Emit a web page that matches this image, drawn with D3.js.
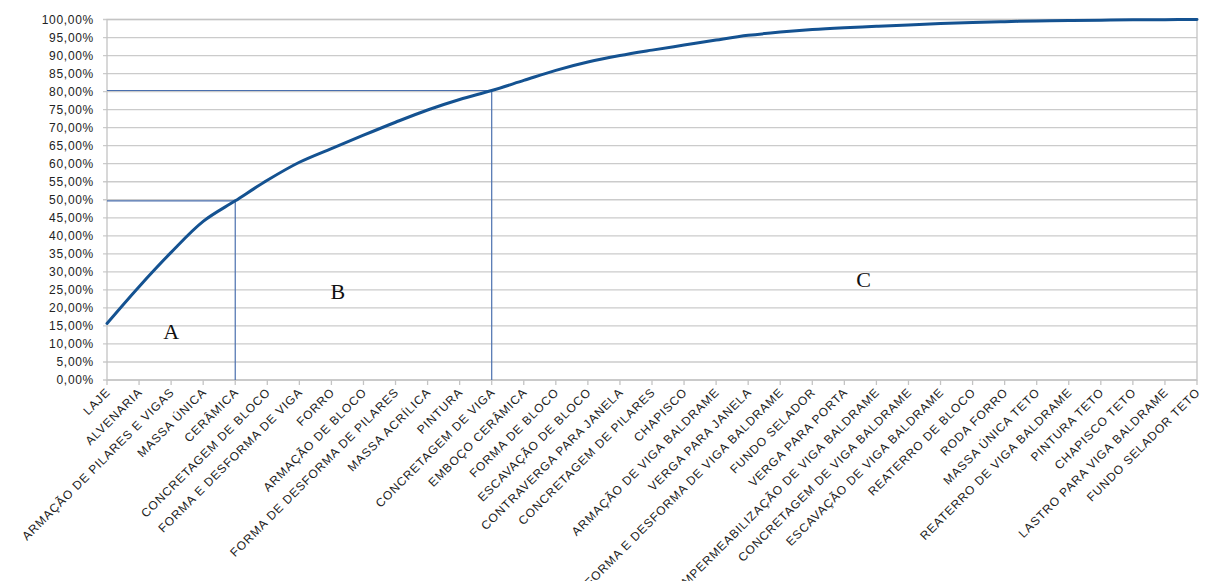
<!DOCTYPE html>
<html>
<head>
<meta charset="utf-8">
<script src="https://cdn.jsdelivr.net/npm/d3@7"></script>
<style>
  html, body { margin: 0; padding: 0; background: #ffffff; }
  svg { display: block; }
</style>
</head>
<body>
<svg id="chart" width="1210" height="581"></svg>
<script>
// Services, ordered by cost share
const categories = [
  "LAJE", "ALVENARIA", "ARMAÇÃO DE PILARES E VIGAS", "MASSA ÚNICA", "CERÂMICA",
  "CONCRETAGEM DE BLOCO", "FORMA E DESFORMA DE VIGA", "FORRO", "ARMAÇÃO DE BLOCO",
  "FORMA DE DESFORMA DE PILARES", "MASSA ACRÍLICA", "PINTURA", "CONCRETAGEM DE VIGA",
  "EMBOÇO CERÂMICA", "FORMA DE BLOCO", "ESCAVAÇÃO DE BLOCO", "CONTRAVERGA PARA JANELA",
  "CONCRETAGEM DE PILARES", "CHAPISCO", "ARMAÇÃO DE VIGA BALDRAME", "VERGA PARA JANELA",
  "FORMA E DESFORMA DE VIGA BALDRAME", "FUNDO SELADOR", "VERGA PARA PORTA",
  "IMPERMEABILIZAÇÃO DE VIGA BALDRAME", "CONCRETAGEM DE VIGA BALDRAME",
  "ESCAVAÇÃO DE VIGA BALDRAME", "REATERRO DE BLOCO", "RODA FORRO", "MASSA ÚNICA TETO",
  "REATERRO DE VIGA BALDRAME", "PINTURA TETO", "CHAPISCO TETO",
  "LASTRO PARA VIGA BALDRAME", "FUNDO SELADOR TETO"
];

// Cumulative share of total cost (%)
const cumulative = [
  15.7, 25.9, 35.4, 44.0, 49.7,
  55.4, 60.4, 64.2, 67.9,
  71.5, 74.9, 77.8, 80.3,
  83.1, 85.9, 88.2, 90.0,
  91.5, 92.9, 94.3, 95.6,
  96.5, 97.2, 97.7,
  98.1, 98.5,
  98.9, 99.2, 99.4, 99.6,
  99.7, 99.8, 99.9,
  99.95, 100
];

// Y axis ticks (%)
const yTicks = d3.range(0, 101, 5);

// Class boundaries: last service of class A and of class B
const boundaryA = "CERÂMICA";
const boundaryB = "CONCRETAGEM DE VIGA";

// Class labels: [label, category position, cumulative % at baseline]
const classLabels = ["A", "B", "C"];
const classPos = [2, 7.2, 23.6];
const classLevel = [11.4, 22.5, 25.8];

const W = 1210, H = 581;
const margin = { top: 19.5, right: 13, bottom: 201, left: 107 };
const svg = d3.select("#chart");

const x = d3.scaleLinear()
  .domain([0, categories.length - 1])
  .range([margin.left, W - margin.right]);
const y = d3.scaleLinear()
  .domain([0, 100])
  .range([H - margin.bottom, margin.top]);

const locale = d3.formatLocale({ decimal: ",", thousands: ".", grouping: [3], currency: ["R$", ""] });
const fmt = locale.format(".2f");

const labelFont = "Liberation Sans, Arial, sans-serif";

// Horizontal gridlines
svg.append("g")
  .selectAll("line")
  .data(yTicks)
  .join("line")
  .attr("x1", margin.left - 4)
  .attr("x2", W - margin.right)
  .attr("y1", d => y(d))
  .attr("y2", d => y(d))
  .attr("stroke", "#cbcbcb")
  .attr("stroke-width", 1.3);

// Plot frame
svg.append("rect")
  .attr("x", margin.left)
  .attr("y", y(100))
  .attr("width", x(categories.length - 1) - margin.left)
  .attr("height", y(0) - y(100))
  .attr("fill", "none")
  .attr("stroke", "#c4c4c4")
  .attr("stroke-width", 1.3);

// Y axis labels
svg.append("g")
  .selectAll("text")
  .data(yTicks)
  .join("text")
  .attr("x", margin.left - 13)
  .attr("y", d => y(d))
  .attr("dy", "0.36em")
  .attr("text-anchor", "end")
  .attr("font-family", labelFont)
  .attr("font-size", 12)
  .attr("letter-spacing", 0.7)
  .attr("fill", "#222")
  .text(d => fmt(d) + "%");

// X axis ticks
svg.append("g")
  .selectAll("line")
  .data(categories)
  .join("line")
  .attr("x1", (d, i) => x(i))
  .attr("x2", (d, i) => x(i))
  .attr("y1", y(0))
  .attr("y2", y(0) + 5)
  .attr("stroke", "#c4c4c4")
  .attr("stroke-width", 1.3);

// X axis labels, rotated
svg.append("g")
  .selectAll("text")
  .data(categories)
  .join("text")
  .attr("transform", (d, i) => `translate(${x(i) + 4},${y(0) + 13}) rotate(-45)`)
  .attr("text-anchor", "end")
  .attr("font-family", labelFont)
  .attr("font-size", 12)
  .attr("letter-spacing", 0.9)
  .attr("fill", "#222")
  .text(d => d);

// Class boundary lines
const boundaryColor = "#4a6fae";
[boundaryA, boundaryB].forEach(name => {
  const i = categories.indexOf(name);
  const v = cumulative[i];
  svg.append("line")
    .attr("x1", margin.left).attr("x2", x(i))
    .attr("y1", y(v)).attr("y2", y(v))
    .attr("stroke", boundaryColor).attr("stroke-width", 1.2);
  svg.append("line")
    .attr("x1", x(i)).attr("x2", x(i))
    .attr("y1", y(v)).attr("y2", y(0))
    .attr("stroke", boundaryColor).attr("stroke-width", 1.2);
});

// Cumulative curve
const line = d3.line()
  .x((d, i) => x(i))
  .y(d => y(d))
  .curve(d3.curveCatmullRom.alpha(0.5));

svg.append("path")
  .datum(cumulative)
  .attr("d", line)
  .attr("fill", "none")
  .attr("stroke", "#145291")
  .attr("stroke-width", 3)
  .attr("stroke-linejoin", "round")
  .attr("stroke-linecap", "round");

// Class labels
svg.append("g")
  .selectAll("text")
  .data(classLabels)
  .join("text")
  .attr("x", (d, i) => x(classPos[i]))
  .attr("y", (d, i) => y(classLevel[i]))
  .attr("text-anchor", "middle")
  .attr("font-family", "Liberation Serif, Times New Roman, serif")
  .attr("font-size", 22)
  .attr("fill", "#111")
  .text(d => d);
</script>
</body>
</html>
